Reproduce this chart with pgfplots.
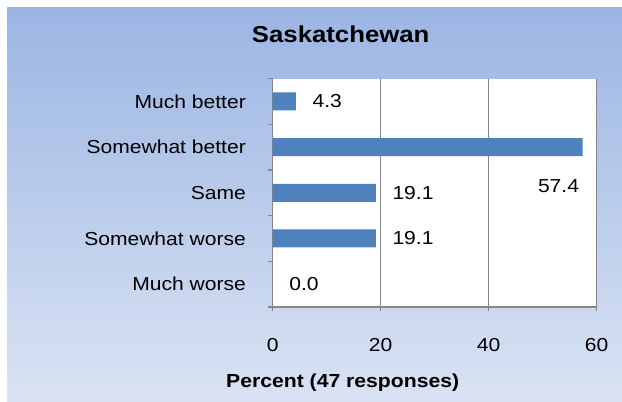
\documentclass[border=0pt]{standalone}
\usepackage{pgfplots}
\pgfplotsset{compat=1.18}
\usepackage{fontspec}
\setmainfont{Liberation Sans}[FakeStretch=1.12]
\definecolor{barblue}{HTML}{4F81BD}
\definecolor{gridgray}{HTML}{868686}
\definecolor{bgtop}{HTML}{9BB5E3}
\definecolor{bgbot}{HTML}{DAE3F3}
\begin{document}
\begin{tikzpicture}
\useasboundingbox (0,0) rectangle (622pt,-402pt);
\shade[top color=bgtop,bottom color=bgbot] (7pt,-7pt) rectangle (622pt,-402pt);
\node[anchor=base, font=\fontsize{23}{27}\selectfont\bfseries, inner sep=0pt] at (340.7pt,-42.3pt) {Saskatchewan};
\node[anchor=base, font=\fontsize{18.9}{22}\selectfont\bfseries, inner sep=0pt] at (342.7pt,-387.3pt) {Percent (47 responses)};
\begin{axis}[
  at={(272.7pt,-307pt)}, anchor=south west,
  x=5.4pt, y=45.7pt,
  xmin=0, xmax=60, ymin=-0.5, ymax=4.5,
  xbar, bar width=18pt,
  axis background/.style={fill=white},
  axis x line*=bottom, axis y line*=left,
  axis line style={draw=gridgray, line width=1.2pt},
  xtick={0,20,40,60},
  ytick={0,1,2,3,4},
  yticklabels={Much worse,Somewhat worse,Same,Somewhat better,Much better},
  minor ytick={-0.5,0.5,1.5,2.5,3.5,4.5},
  xmajorgrids,
  major grid style={draw=gridgray, line width=1.2pt},
  tick align=outside,
  major tick length=4pt, minor tick length=5pt,
  every tick/.style={draw=gridgray, line width=1.2pt},
  every major y tick/.append style={draw=none},
  tick label style={font=\fontsize{18.8}{22}\selectfont},
  /pgf/number format/assume math mode=true,
  xticklabel style={anchor=base, inner sep=0pt, yshift=-40.7pt},
  yticklabel style={anchor=east, inner sep=0pt, xshift=-22.7pt},
  clip=false,
]
\addplot[draw=none, fill=barblue] coordinates {(4.3,4) (57.4,3) (19.1,2) (19.1,1) (0.0,0)};
\begin{scope}[every node/.style={anchor=west, inner sep=0pt, font=\fontsize{18.8}{22}\selectfont}]
\node[xshift=16.5pt] at (axis cs:4.3,4) {4.3};
\node[xshift=16.5pt] at (axis cs:19.1,2) {19.1};
\node[xshift=16.5pt] at (axis cs:19.1,1) {19.1};
\node[xshift=16.5pt] at (axis cs:0,0) {0.0};
\node at (axis cs:49.1,2.148) {57.4};
\end{scope}
\end{axis}
\end{tikzpicture}
\end{document}
